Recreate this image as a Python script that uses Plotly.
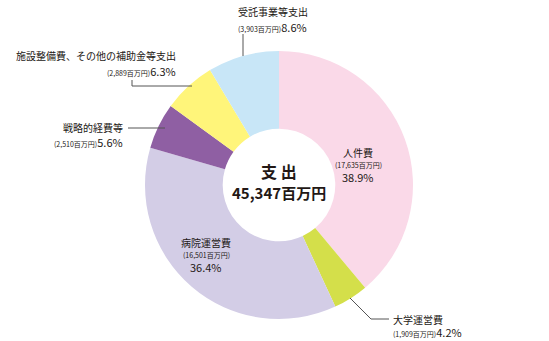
import plotly.graph_objects as go

# ---- data ----
labels = ["人件費", "大学運営費", "病院運営費", "戦略的経費等",
          "施設整備費、その他の補助金等支出", "受託事業等支出"]
values = [17635, 1909, 16501, 2510, 2889, 3903]
amount_text = ["17,635", "1,909", "16,501", "2,510", "2,889", "3,903"]
pct_text = ["38.9%", "4.2%", "36.4%", "5.6%", "6.3%", "8.6%"]
colors = ["#FAD9E8", "#D4DF4A", "#D3CDE6", "#8F5FA3", "#FFF57A", "#C8E6F7"]
center_title = "支 出"
total_text = "45,347百万円"

W, H = 549, 341
FONT = "Noto Sans CJK JP, Liberation Sans, sans-serif"
TXT = "#231815"

def px(x):
    return x / W

def py(y):
    return 1 - y / H

fig = go.Figure(go.Pie(
    labels=labels, values=values, sort=False, direction="clockwise",
    rotation=0, hole=0.42, textinfo="none", hoverinfo="label+value",
    marker=dict(colors=colors, line=dict(width=0)),
    domain=dict(x=[145 / W, 413 / W], y=[22 / H, 290 / H]),
    showlegend=False,
))

ann = []

def add(text, x, y, size, xanchor="center", bold=False):
    ann.append(dict(
        text=f"<b>{text}</b>" if bold else text, x=px(x), y=py(y),
        xref="paper", yref="paper", showarrow=False,
        xanchor=xanchor, yanchor="middle", borderpad=0,
        font=dict(family=FONT, size=size, color=TXT),
    ))

def small(i):
    return f"<span style='font-size:7px'>({amount_text[i]}百万円)</span>"

# 人件費 (inside)
add(labels[0], 358, 152, 10)
add(small(0), 358, 164.5, 7)
add(pct_text[0], 358, 176.5, 11)
# 病院運営費 (inside)
add(labels[2], 206, 242, 10)
add(small(2), 206, 254.5, 7)
add(pct_text[2], 206, 266.5, 11)
# 大学運営費
add(labels[1], 392, 319, 10, "left")
add(small(1) + pct_text[1], 392, 332, 11, "left")
# 戦略的経費等
add(labels[3], 124, 127, 10, "right")
add(small(3) + pct_text[3], 124, 142, 11, "right")
# 施設整備費...
add(labels[4], 177, 56, 10, "right")
add(small(4) + pct_text[4], 177, 71, 11, "right")
# 受託事業等支出
add(labels[5], 237, 12, 10, "left")
add(small(5) + pct_text[5], 237, 27, 11, "left")
# center
add(center_title, 279, 171, 16, bold=True)
add(total_text, 279, 192, 15, bold=True)

shapes = []
def seg(x0, y0, x1, y1):
    shapes.append(dict(type="line", xref="paper", yref="paper",
                       x0=px(x0), y0=py(y0), x1=px(x1), y1=py(y1),
                       line=dict(color="#555555", width=1)))

seg(243, 34, 243, 56)
seg(132, 80, 132, 86)
seg(132, 86, 192, 86)
seg(128, 128, 165, 128)
seg(350, 298, 371, 319)
seg(371, 319, 389, 319)

fig.update_layout(
    width=W, height=H, margin=dict(l=0, r=0, t=0, b=0),
    paper_bgcolor="white", plot_bgcolor="white",
    annotations=ann, shapes=shapes,
)

fig.write_html("out.html")
